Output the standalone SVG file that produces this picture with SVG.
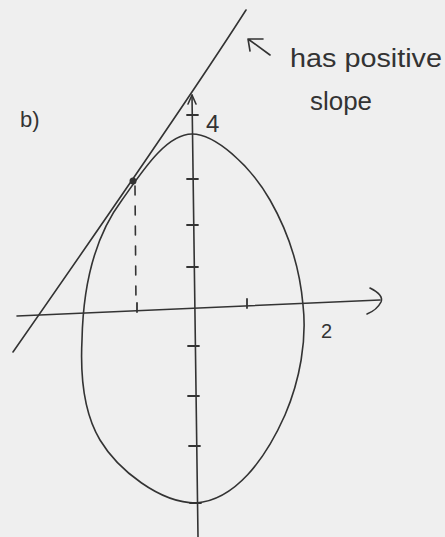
<svg xmlns="http://www.w3.org/2000/svg" width="445" height="537" viewBox="0 0 445 537">
<style>
.ink{fill:none;stroke:#333;stroke-width:1.6;stroke-linecap:round;stroke-linejoin:round}
.tick{fill:none;stroke:#333;stroke-width:1.8;stroke-linecap:round}
.hand{font-family:"Liberation Sans",Arial,sans-serif;fill:#333}
</style>
<rect width="445" height="537" fill="#efefef"/>
<g id="axes">
<path class="ink" d="M192,95 L198,537"/>
<path class="ink" d="M188,104 L192,95 L196,104"/>
<path class="ink" d="M17,316 L380,300"/>
<path class="ink" d="M370,288 Q384,295 381,302 Q377,310 367,314"/>
<path class="tick" d="M187,115H198 M187,179H198 M187,225H198 M187,267H198 M188,346H199 M188,396H199 M189,446H200 M190,503H201"/>
<path class="tick" d="M137,303V312 M247,299V308"/>
</g>
<g id="ellipse">
<path class="ink" d="M192,134 C215,134 250,165 270,200 C290,235 300,270 303,305 C307,340 300,380 285,415 C265,460 235,500 196,503 C160,503 118,470 100,440 C85,415 80,380 82,340 C83,290 92,240 122,200 C140,175 165,134 192,134 Z"/>
</g>
<g id="tangent">
<path class="ink" d="M246,10 Q186,104 13,352"/>
<circle cx="133" cy="181" r="3.5" fill="#333"/>
</g>
<g id="connectors">
<path class="ink" d="M135,186 L136,305" stroke-dasharray="9 11"/>
<path class="ink" d="M270,55 L248,39 M248,39 L263,39 M248,39 L250,51"/>
</g>
<g id="labels">
<text class="hand" x="20" y="127" font-size="22">b)</text>
<text class="hand" x="206" y="132" font-size="24">4</text>
<text class="hand" x="321" y="338" font-size="20">2</text>
<text class="hand" x="290" y="67" font-size="26" textLength="152" lengthAdjust="spacingAndGlyphs">has positive</text>
<text class="hand" x="310" y="110" font-size="26" textLength="62" lengthAdjust="spacingAndGlyphs">slope</text>
</g>
</svg>
